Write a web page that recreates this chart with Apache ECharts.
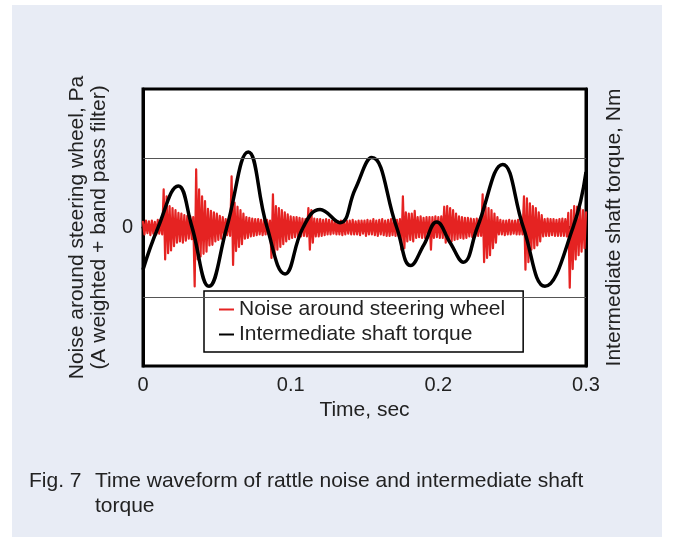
<!DOCTYPE html>
<html>
<head>
<meta charset="utf-8">
<script src="https://cdn.jsdelivr.net/npm/echarts@6/dist/echarts.min.js"></script>
<style>
html,body{margin:0;padding:0;background:#fff;}
#chart{width:675px;height:540px;}
</style>
</head>
<body>
<div id="chart"></div>
<script>
// ---- Data ----
const xTicks = [0, 0.1, 0.2, 0.3];
const gridValues = [1, -1];
// Intermediate shaft torque [time (s), value] (relative units)
const torqueData = [
  [0, -0.61], [0.0102, 0], [0.0239, 0.6], [0.033, 0.02], [0.0447, -0.85],
  [0.0567, 0], [0.0713, 1.09], [0.0838, 0.02], [0.0962, -0.67], [0.1084, 0],
  [0.1199, 0.26], [0.1334, 0.07], [0.1436, 0.55], [0.1549, 1.01], [0.1718, 0],
  [0.1813, -0.55], [0.1902, -0.25], [0.1989, 0.08], [0.208, -0.22], [0.2169, -0.5],
  [0.2264, 0], [0.2436, 0.91], [0.2576, 0], [0.2722, -0.85], [0.2912, 0], [0.3, 0.8]
];
// Noise around steering wheel, sampled every 1 ms from 0 to 0.3 s (relative units)
const noiseStep = 0.001;
const noiseValues = [
  0.08,-0.1,0.1,-0.08,0.09,-0.11,0.1,-0.09,0.08,-0.1,0.11,-0.09,0.1,-0.1,
  0.55,-0.46,0.45,
  -0.37,0.31,-0.33,0.28,-0.27,0.25,-0.22,
  0.21,-0.2,0.2,-0.22,0.18,-0.19,0.17,-0.16,0.16,-0.17,0.15,
  -0.85,0.84,
  -0.46,0.55,-0.42,0.45,-0.38,0.38,-0.35,
  0.27,-0.26,0.24,-0.25,0.22,-0.2,0.2,-0.18,0.17,-0.16,0.15,
  -0.12,0.12,-0.11,0.12,-0.12,
  0.74,-0.54,
  0.36,-0.34,0.3,-0.28,0.25,-0.24,0.2,
  -0.16,0.15,-0.15,0.14,-0.13,0.13,-0.12,0.12,-0.11,0.12,-0.1,0.11,-0.11,0.1,-0.1,0.11,-0.1,0.1,
  -0.44,0.48,-0.4,
  0.31,-0.32,0.28,-0.28,0.25,-0.24,0.22,-0.2,0.19,-0.17,0.16,
  -0.15,0.15,-0.14,0.15,-0.13,0.14,-0.13,0.13,-0.12,0.12,-0.13,
  0.28,-0.32,0.25,-0.22,
  0.13,-0.13,0.12,-0.13,0.12,-0.12,0.11,-0.11,0.12,-0.1,0.11,-0.1,
  0.1,-0.09,0.1,-0.1,0.09,-0.1,0.1,-0.11,0.09,-0.1,0.1,-0.09,0.1,-0.1,0.11,-0.1,
  0.09,-0.1,0.1,-0.11,0.1,-0.09,0.1,-0.12,0.11,-0.1,0.1,-0.1,0.12,-0.11,0.1,-0.12,
  0.11,-0.1,0.12,-0.11,0.1,-0.12,0.11,-0.12,0.12,-0.11,0.12,-0.12,0.11,-0.12,0.12,
  -0.32,0.45,-0.3,
  0.22,-0.2,0.2,-0.18,0.2,
  -0.2,0.24,
  -0.15,0.15,-0.14,0.16,-0.15,0.14,-0.15,0.15,-0.14,0.15,
  -0.32,
  0.15,-0.15,0.16,-0.14,0.15,-0.15,0.16,-0.15,
  0.3,-0.22,0.31,-0.2,0.28,-0.2,0.25,-0.18,0.2,-0.17,
  0.16,-0.15,0.15,-0.16,0.14,-0.15,0.14,-0.13,0.13,-0.14,0.12,-0.13,0.13,-0.12,0.12,-0.12,
  0.48,-0.5,
  0.3,-0.44,0.28,-0.4,0.25,-0.3,0.2,-0.22,0.15,
  -0.1,0.11,-0.1,0.1,-0.11,0.1,-0.1,0.11,-0.1,0.1,-0.09,0.1,-0.1,0.11,-0.1,0.1,-0.1,
  0.45,-0.61,0.42,-0.5,0.35,
  -0.32,0.31,-0.3,0.28,-0.26,0.22,-0.2,0.18,
  -0.13,0.12,-0.12,0.13,-0.12,0.12,-0.11,0.12,-0.12,0.11,-0.12,0.12,-0.12,0.13,-0.12,0.12,-0.13,
  0.21,-0.87,0.25,-0.6,
  0.31,-0.46,0.3,-0.4,0.28,-0.35,0.25,-0.3,0.22
];

const FONT = "'Liberation Sans', Arial, Helvetica, sans-serif";
const TXT = '#222';
const chart = echarts.init(document.getElementById('chart'), null, {renderer: 'canvas'});

const noiseData = noiseValues.map((v, i) => [i * noiseStep, v]);

chart.setOption({
  backgroundColor: '#ffffff',
  animation: false,
  graphic: [
    {type: 'rect', z: -10, shape: {x: 12, y: 5, width: 650, height: 532}, style: {fill: '#e8ecf5'}},
    {type: 'text', left: 29, top: 469, style: {text: 'Fig. 7', font: '21px ' + FONT, fill: TXT, lineHeight: 25}},
    {type: 'text', left: 95, top: 469, style: {text: 'Time waveform of rattle noise and intermediate shaft\ntorque', font: '21px ' + FONT, fill: TXT, lineHeight: 25}}
  ],
  grid: {left: 143, right: 89, top: 89, bottom: 174, show: true, backgroundColor: '#fff', borderColor: '#000', borderWidth: 3},
  legend: {
    orient: 'vertical', left: 204, top: 291,
    backgroundColor: '#fff', borderColor: '#000', borderWidth: 1.5,
    padding: [8, 18, 7, 15], itemGap: 4, itemWidth: 15, itemHeight: 2,
    icon: 'rect',
    textStyle: {fontSize: 21, fontFamily: FONT, color: TXT},
    data: ['Noise around steering wheel', 'Intermediate shaft torque']
  },
  xAxis: {
    type: 'value', min: xTicks[0], max: xTicks[xTicks.length - 1], interval: 0.1,
    name: 'Time, sec', nameLocation: 'middle', nameGap: 34,
    nameTextStyle: {fontSize: 21, fontFamily: FONT, color: TXT},
    axisLine: {show: true, lineStyle: {color: '#000', width: 3}},
    axisTick: {show: true, inside: true, length: 5, lineStyle: {color: '#000', width: 1}},
    axisLabel: {fontSize: 20, fontFamily: FONT, color: TXT, margin: 9,
      formatter: v => (v === 0 ? '0' : v.toFixed(1))},
    splitLine: {show: false}
  },
  yAxis: [
    {
      type: 'value', min: -2, max: 2, interval: 1,
      name: 'Noise around steering wheel, Pa\n(A weighted + band pass filter)',
      nameLocation: 'middle', nameRotate: 90, nameGap: 33,
      nameTextStyle: {fontSize: 21, fontFamily: FONT, color: TXT, lineHeight: 22},
      axisLine: {show: true, lineStyle: {color: '#000', width: 3}},
      axisTick: {show: false},
      axisLabel: {fontSize: 20, fontFamily: FONT, color: TXT, margin: 10,
        formatter: v => (v === 0 ? '0' : '')},
      splitLine: {show: false}
    },
    {
      type: 'value', min: -2, max: 2, interval: 1, position: 'right',
      name: 'Intermediate shaft torque, Nm',
      nameLocation: 'middle', nameRotate: 90, nameGap: 18,
      nameTextStyle: {fontSize: 21, fontFamily: FONT, color: TXT},
      axisLine: {show: true, lineStyle: {color: '#000', width: 3}},
      axisTick: {show: false},
      axisLabel: {show: false},
      splitLine: {show: false}
    }
  ],
  series: [
    {
      name: 'Noise around steering wheel', type: 'line', data: noiseData,
      yAxisIndex: 0, showSymbol: false, symbol: 'none',
      lineStyle: {color: '#e52322', width: 2.2, join: 'round', cap: 'round'}, itemStyle: {color: '#e52322'},
      z: 2,
      markLine: {
        silent: true, symbol: 'none', label: {show: false},
        lineStyle: {color: '#555', width: 1, type: 'solid'},
        data: gridValues.map(v => ({yAxis: v}))
      }
    },
    {
      name: 'Intermediate shaft torque', type: 'line', data: torqueData,
      yAxisIndex: 1, smooth: 0.45, showSymbol: false, symbol: 'none',
      lineStyle: {color: '#000', width: 3.5}, itemStyle: {color: '#000'},
      z: 3
    }
  ]
});
</script>
</body>
</html>
